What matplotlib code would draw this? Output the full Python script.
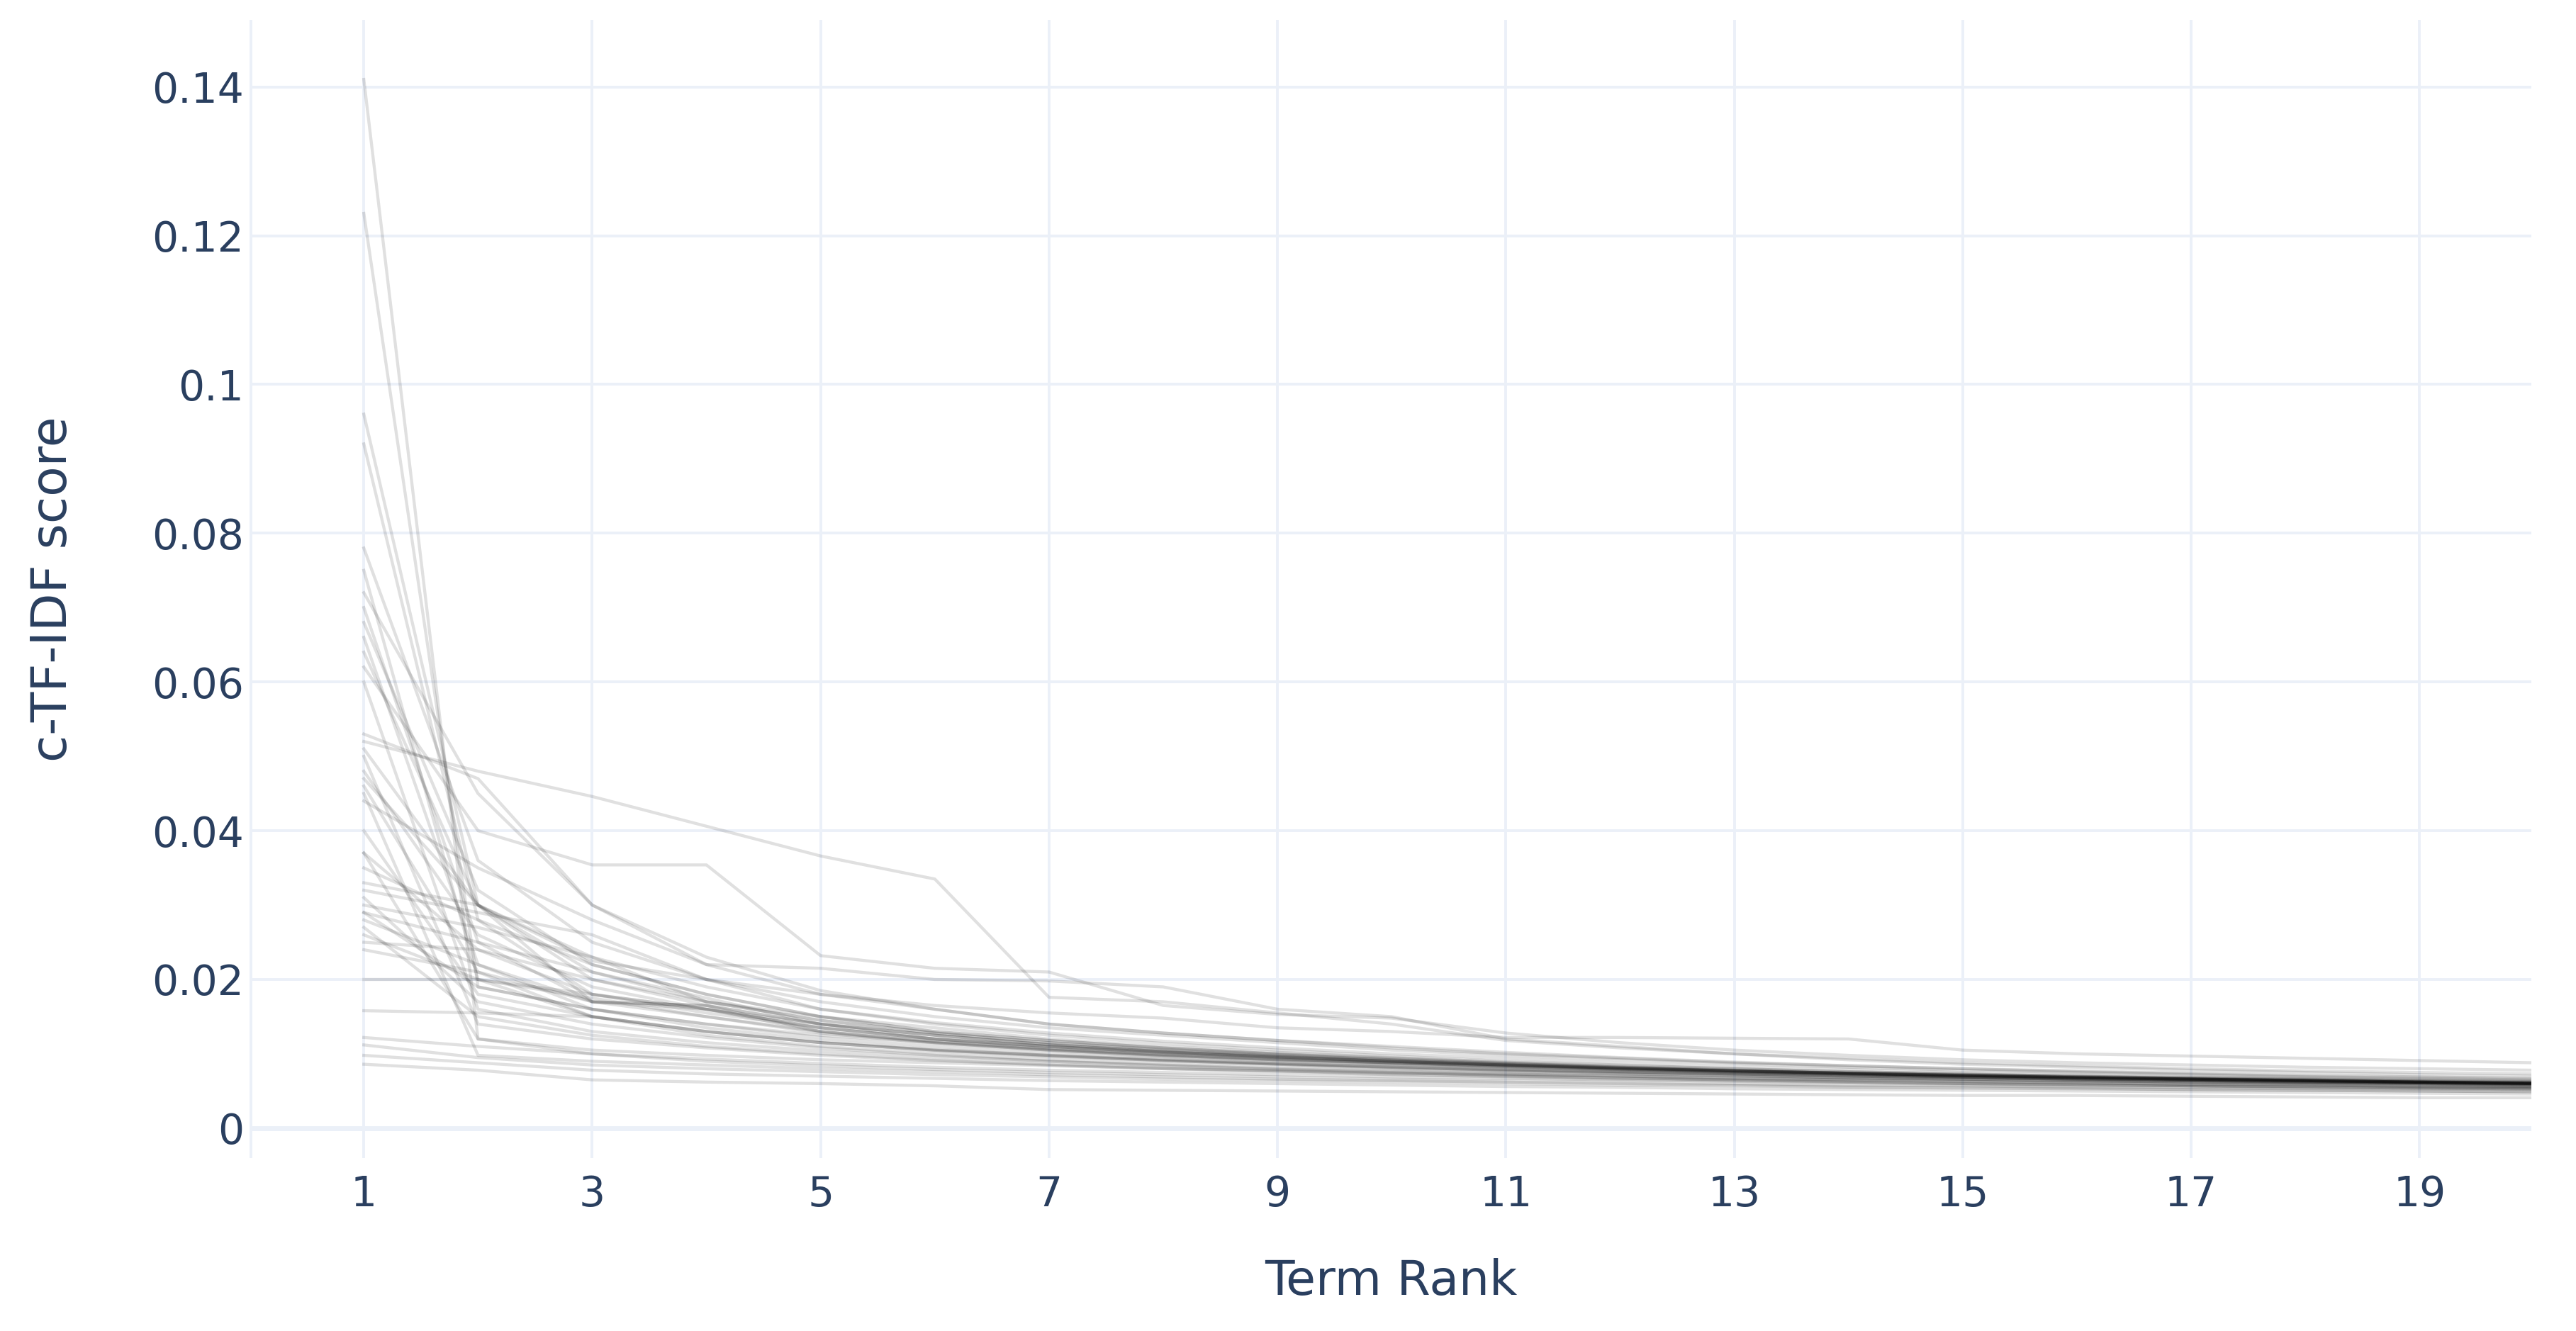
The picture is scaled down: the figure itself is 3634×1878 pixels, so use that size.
import matplotlib.pyplot as plt

# term ranks shown on the x axis
ranks = list(range(1, 21))

# c-TF-IDF score per term rank, one list per topic
topic_01 = [0.141, 0.012, 0.0105, 0.0098, 0.0092, 0.0088, 0.0084, 0.0080, 0.0077, 0.0074, 0.0072, 0.0070, 0.0068, 0.0066, 0.0065, 0.0063, 0.0062, 0.0061, 0.0060, 0.0059]
topic_02 = [0.123, 0.019, 0.0160, 0.0140, 0.0125, 0.0115, 0.0105, 0.0098, 0.0092, 0.0088, 0.0084, 0.0080, 0.0077, 0.0074, 0.0072, 0.0070, 0.0068, 0.0066, 0.0064, 0.0063]
topic_03 = [0.096, 0.030, 0.0210, 0.0170, 0.0150, 0.0130, 0.0118, 0.0108, 0.0100, 0.0094, 0.0088, 0.0083, 0.0079, 0.0075, 0.0072, 0.0069, 0.0067, 0.0065, 0.0063, 0.0061]
topic_04 = [0.092, 0.028, 0.0180, 0.0160, 0.0135, 0.0120, 0.0110, 0.0102, 0.0096, 0.0090, 0.0085, 0.0081, 0.0077, 0.0074, 0.0071, 0.0068, 0.0066, 0.0064, 0.0062, 0.0060]
topic_05 = [0.078, 0.036, 0.0250, 0.0200, 0.0170, 0.0150, 0.0135, 0.0125, 0.0115, 0.0105, 0.0098, 0.0092, 0.0087, 0.0082, 0.0078, 0.0075, 0.0072, 0.0069, 0.0067, 0.0065]
topic_06 = [0.075, 0.020, 0.0150, 0.0130, 0.0115, 0.0105, 0.0098, 0.0092, 0.0087, 0.0083, 0.0079, 0.0076, 0.0073, 0.0070, 0.0068, 0.0066, 0.0064, 0.0062, 0.0060, 0.0058]
topic_07 = [0.072, 0.045, 0.0300, 0.0220, 0.0180, 0.0160, 0.0140, 0.0128, 0.0118, 0.0110, 0.0102, 0.0095, 0.0089, 0.0084, 0.0080, 0.0076, 0.0073, 0.0070, 0.0068, 0.0066]
topic_08 = [0.070, 0.025, 0.0170, 0.0150, 0.0130, 0.0115, 0.0105, 0.0097, 0.0091, 0.0086, 0.0082, 0.0078, 0.0075, 0.0072, 0.0069, 0.0067, 0.0065, 0.0063, 0.0061, 0.0060]
topic_09 = [0.068, 0.032, 0.0220, 0.0180, 0.0150, 0.0135, 0.0120, 0.0110, 0.0102, 0.0095, 0.0089, 0.0084, 0.0080, 0.0076, 0.0073, 0.0070, 0.0068, 0.0066, 0.0064, 0.0062]
topic_10 = [0.052, 0.048, 0.0446, 0.0406, 0.0366, 0.0335, 0.0176, 0.0170, 0.0155, 0.0140, 0.0118, 0.0108, 0.0100, 0.0094, 0.0088, 0.0084, 0.0080, 0.0077, 0.0075, 0.0073]
topic_11 = [0.062, 0.040, 0.0354, 0.0354, 0.0232, 0.0215, 0.0210, 0.0165, 0.0153, 0.0148, 0.0128, 0.0115, 0.0105, 0.0098, 0.0092, 0.0088, 0.0085, 0.0082, 0.0080, 0.0078]
topic_12 = [0.066, 0.022, 0.0160, 0.0135, 0.0118, 0.0106, 0.0098, 0.0091, 0.0086, 0.0081, 0.0077, 0.0074, 0.0071, 0.0068, 0.0066, 0.0064, 0.0062, 0.0060, 0.0058, 0.0057]
topic_13 = [0.064, 0.030, 0.0200, 0.0165, 0.0140, 0.0125, 0.0112, 0.0103, 0.0096, 0.0090, 0.0085, 0.0080, 0.0076, 0.0073, 0.0070, 0.0068, 0.0066, 0.0064, 0.0062, 0.0060]
topic_14 = [0.060, 0.016, 0.0130, 0.0115, 0.0104, 0.0096, 0.0090, 0.0085, 0.0080, 0.0076, 0.0073, 0.0070, 0.0067, 0.0065, 0.0063, 0.0061, 0.0059, 0.0058, 0.0056, 0.0055]
topic_15 = [0.053, 0.047, 0.0300, 0.0230, 0.0185, 0.0160, 0.0140, 0.0128, 0.0118, 0.0108, 0.0100, 0.0094, 0.0088, 0.0084, 0.0080, 0.0077, 0.0074, 0.0071, 0.0069, 0.0067]
topic_16 = [0.051, 0.030, 0.0230, 0.0190, 0.0160, 0.0142, 0.0128, 0.0117, 0.0108, 0.0100, 0.0094, 0.0088, 0.0083, 0.0079, 0.0075, 0.0072, 0.0069, 0.0067, 0.0065, 0.0063]
topic_17 = [0.050, 0.014, 0.0120, 0.0108, 0.0098, 0.0091, 0.0085, 0.0080, 0.0076, 0.0072, 0.0069, 0.0066, 0.0064, 0.0062, 0.0060, 0.0058, 0.0057, 0.0055, 0.0054, 0.0053]
topic_18 = [0.048, 0.026, 0.0190, 0.0160, 0.0140, 0.0125, 0.0113, 0.0104, 0.0097, 0.0091, 0.0086, 0.0081, 0.0077, 0.0074, 0.0071, 0.0068, 0.0066, 0.0064, 0.0062, 0.0061]
topic_19 = [0.046, 0.021, 0.0170, 0.0160, 0.0130, 0.0117, 0.0107, 0.0099, 0.0093, 0.0088, 0.0083, 0.0079, 0.0075, 0.0072, 0.0069, 0.0067, 0.0065, 0.0063, 0.0061, 0.0059]
topic_20 = [0.044, 0.035, 0.0280, 0.0220, 0.0215, 0.0200, 0.0198, 0.0190, 0.0160, 0.0150, 0.0120, 0.0110, 0.0100, 0.0092, 0.0086, 0.0082, 0.0078, 0.0075, 0.0072, 0.0070]
topic_21 = [0.040, 0.018, 0.0150, 0.0130, 0.0115, 0.0104, 0.0096, 0.0090, 0.0085, 0.0080, 0.0076, 0.0073, 0.0070, 0.0067, 0.0065, 0.0063, 0.0061, 0.0059, 0.0058, 0.0056]
topic_22 = [0.037, 0.024, 0.0180, 0.0155, 0.0135, 0.0120, 0.0108, 0.0100, 0.0094, 0.0088, 0.0083, 0.0079, 0.0075, 0.0072, 0.0069, 0.0067, 0.0065, 0.0063, 0.0061, 0.0060]
topic_23 = [0.035, 0.028, 0.0220, 0.0180, 0.0150, 0.0130, 0.0118, 0.0108, 0.0100, 0.0093, 0.0087, 0.0082, 0.0078, 0.0074, 0.0071, 0.0068, 0.0066, 0.0064, 0.0062, 0.0061]
topic_24 = [0.033, 0.030, 0.0170, 0.0165, 0.0140, 0.0120, 0.0110, 0.0102, 0.0095, 0.0089, 0.0084, 0.0080, 0.0076, 0.0073, 0.0070, 0.0068, 0.0066, 0.0064, 0.0062, 0.0060]
topic_25 = [0.032, 0.029, 0.0260, 0.0200, 0.0160, 0.0140, 0.0125, 0.0114, 0.0105, 0.0097, 0.0090, 0.0085, 0.0080, 0.0076, 0.0073, 0.0070, 0.0067, 0.0065, 0.0063, 0.0061]
topic_26 = [0.031, 0.017, 0.0140, 0.0122, 0.0108, 0.0098, 0.0090, 0.0084, 0.0079, 0.0075, 0.0071, 0.0068, 0.0065, 0.0063, 0.0061, 0.0059, 0.0057, 0.0056, 0.0055, 0.0054]
topic_27 = [0.030, 0.027, 0.0230, 0.0170, 0.0145, 0.0128, 0.0115, 0.0106, 0.0098, 0.0092, 0.0086, 0.0081, 0.0077, 0.0074, 0.0071, 0.0068, 0.0066, 0.0064, 0.0062, 0.0060]
topic_28 = [0.029, 0.019, 0.0160, 0.0140, 0.0122, 0.0110, 0.0100, 0.0093, 0.0087, 0.0082, 0.0078, 0.0074, 0.0071, 0.0068, 0.0066, 0.0064, 0.0062, 0.0060, 0.0059, 0.0057]
topic_29 = [0.028, 0.022, 0.0170, 0.0165, 0.0130, 0.0116, 0.0106, 0.0098, 0.0092, 0.0087, 0.0082, 0.0078, 0.0074, 0.0071, 0.0069, 0.0066, 0.0064, 0.0062, 0.0061, 0.0059]
topic_30 = [0.027, 0.015, 0.0125, 0.0110, 0.0100, 0.0092, 0.0086, 0.0081, 0.0077, 0.0073, 0.0070, 0.0067, 0.0065, 0.0062, 0.0060, 0.0059, 0.0057, 0.0056, 0.0054, 0.0053]
topic_31 = [0.026, 0.020, 0.0175, 0.0150, 0.0128, 0.0114, 0.0104, 0.0096, 0.0090, 0.0085, 0.0080, 0.0076, 0.0073, 0.0070, 0.0068, 0.0065, 0.0063, 0.0062, 0.0060, 0.0058]
topic_32 = [0.025, 0.024, 0.0200, 0.0170, 0.0145, 0.0128, 0.0115, 0.0106, 0.0099, 0.0092, 0.0087, 0.0082, 0.0078, 0.0074, 0.0071, 0.0069, 0.0066, 0.0064, 0.0062, 0.0061]
topic_33 = [0.024, 0.021, 0.0150, 0.0125, 0.0110, 0.0100, 0.0092, 0.0086, 0.0081, 0.0077, 0.0073, 0.0070, 0.0067, 0.0065, 0.0063, 0.0061, 0.0059, 0.0058, 0.0056, 0.0055]
topic_34 = [0.020, 0.020, 0.0180, 0.0160, 0.0135, 0.0120, 0.0110, 0.0102, 0.0095, 0.0090, 0.0085, 0.0081, 0.0077, 0.0074, 0.0071, 0.0069, 0.0067, 0.0065, 0.0063, 0.0062]
topic_35 = [0.0158, 0.0155, 0.0150, 0.0130, 0.0115, 0.0105, 0.0097, 0.0091, 0.0086, 0.0082, 0.0078, 0.0075, 0.0072, 0.0070, 0.0068, 0.0066, 0.0064, 0.0062, 0.0061, 0.0060]
topic_36 = [0.0122, 0.0110, 0.0100, 0.0093, 0.0087, 0.0082, 0.0078, 0.0075, 0.0072, 0.0069, 0.0067, 0.0065, 0.0063, 0.0061, 0.0059, 0.0058, 0.0056, 0.0055, 0.0054, 0.0053]
topic_37 = [0.0112, 0.0095, 0.0085, 0.0080, 0.0076, 0.0072, 0.0069, 0.0066, 0.0064, 0.0062, 0.0060, 0.0058, 0.0057, 0.0055, 0.0054, 0.0053, 0.0052, 0.0051, 0.0050, 0.0049]
topic_38 = [0.0098, 0.0088, 0.0078, 0.0073, 0.0070, 0.0067, 0.0064, 0.0062, 0.0060, 0.0058, 0.0056, 0.0055, 0.0053, 0.0052, 0.0051, 0.0050, 0.0049, 0.0048, 0.0047, 0.0046]
topic_39 = [0.0086, 0.0078, 0.0065, 0.0062, 0.0060, 0.0057, 0.0052, 0.0051, 0.0050, 0.0049, 0.0048, 0.0047, 0.0046, 0.0045, 0.0044, 0.0044, 0.0043, 0.0042, 0.0041, 0.0041]
topic_40 = [0.037, 0.012, 0.0100, 0.0090, 0.0084, 0.0079, 0.0075, 0.0072, 0.0069, 0.0066, 0.0064, 0.0062, 0.0060, 0.0058, 0.0057, 0.0055, 0.0054, 0.0053, 0.0052, 0.0051]
topic_41 = [0.045, 0.0098, 0.0090, 0.0085, 0.0080, 0.0076, 0.0072, 0.0069, 0.0066, 0.0064, 0.0062, 0.0060, 0.0058, 0.0056, 0.0055, 0.0054, 0.0052, 0.0051, 0.0050, 0.0049]
topic_42 = [0.029, 0.025, 0.0210, 0.0175, 0.0140, 0.0125, 0.0112, 0.0103, 0.0096, 0.0090, 0.0085, 0.0080, 0.0077, 0.0073, 0.0070, 0.0068, 0.0066, 0.0064, 0.0062, 0.0060]
topic_43 = [0.047, 0.030, 0.0225, 0.0200, 0.0180, 0.0165, 0.0155, 0.0148, 0.0135, 0.0130, 0.0122, 0.0122, 0.0121, 0.0120, 0.0105, 0.0100, 0.0097, 0.0094, 0.0091, 0.0088]

topics = [topic_01, topic_02, topic_03, topic_04, topic_05, topic_06, topic_07, topic_08,
          topic_09, topic_10, topic_11, topic_12, topic_13, topic_14, topic_15, topic_16,
          topic_17, topic_18, topic_19, topic_20, topic_21, topic_22, topic_23, topic_24,
          topic_25, topic_26, topic_27, topic_28, topic_29, topic_30, topic_31, topic_32,
          topic_33, topic_34, topic_35, topic_36, topic_37, topic_38, topic_39, topic_40,
          topic_41, topic_42, topic_43]

x_ticks = [1, 3, 5, 7, 9, 11, 13, 15, 17, 19]
y_ticks = [0, 0.02, 0.04, 0.06, 0.08, 0.1, 0.12, 0.14]
y_tick_labels = ["0", "0.02", "0.04", "0.06", "0.08", "0.1", "0.12", "0.14"]

text_color = "#2a3f5f"
grid_color = "#EBF0F8"
plt.rcParams['font.family'] = ['DejaVu Sans']

fig = plt.figure(figsize=(36.34, 18.78), dpi=100)
ax = fig.add_axes([0.0969, 0.130, 0.8858, 0.855])

for scores in topics:
    ax.plot(ranks, scores, color="black", alpha=0.12, lw=3.1, solid_joinstyle="round")

ax.set_xlim(0, 19.98)
ax.set_ylim(-0.004, 0.149)
ax.set_xticks(x_ticks)
ax.set_yticks(y_ticks)
ax.set_yticklabels(y_tick_labels)
ax.grid(True, color=grid_color, lw=2.8)
ax.set_axisbelow(True)
ax.axhline(0, color=grid_color, lw=5, zorder=0.5)
ax.axvline(0, color=grid_color, lw=5, zorder=0.5)
for s in ax.spines.values():
    s.set_visible(False)
ax.tick_params(axis="both", length=0, labelsize=42, colors=text_color)
ax.tick_params(axis="x", pad=17)
ax.tick_params(axis="y", pad=6)

fig.text(0.0204, 0.5575, "c-TF-IDF score", rotation=90, ha="center", va="center",
         fontsize=50, color=text_color)
fig.text(0.540, 0.0373, "Term Rank", ha="center", va="center", fontsize=49, color=text_color)

fig.savefig("out.png", dpi=100, facecolor="white")
